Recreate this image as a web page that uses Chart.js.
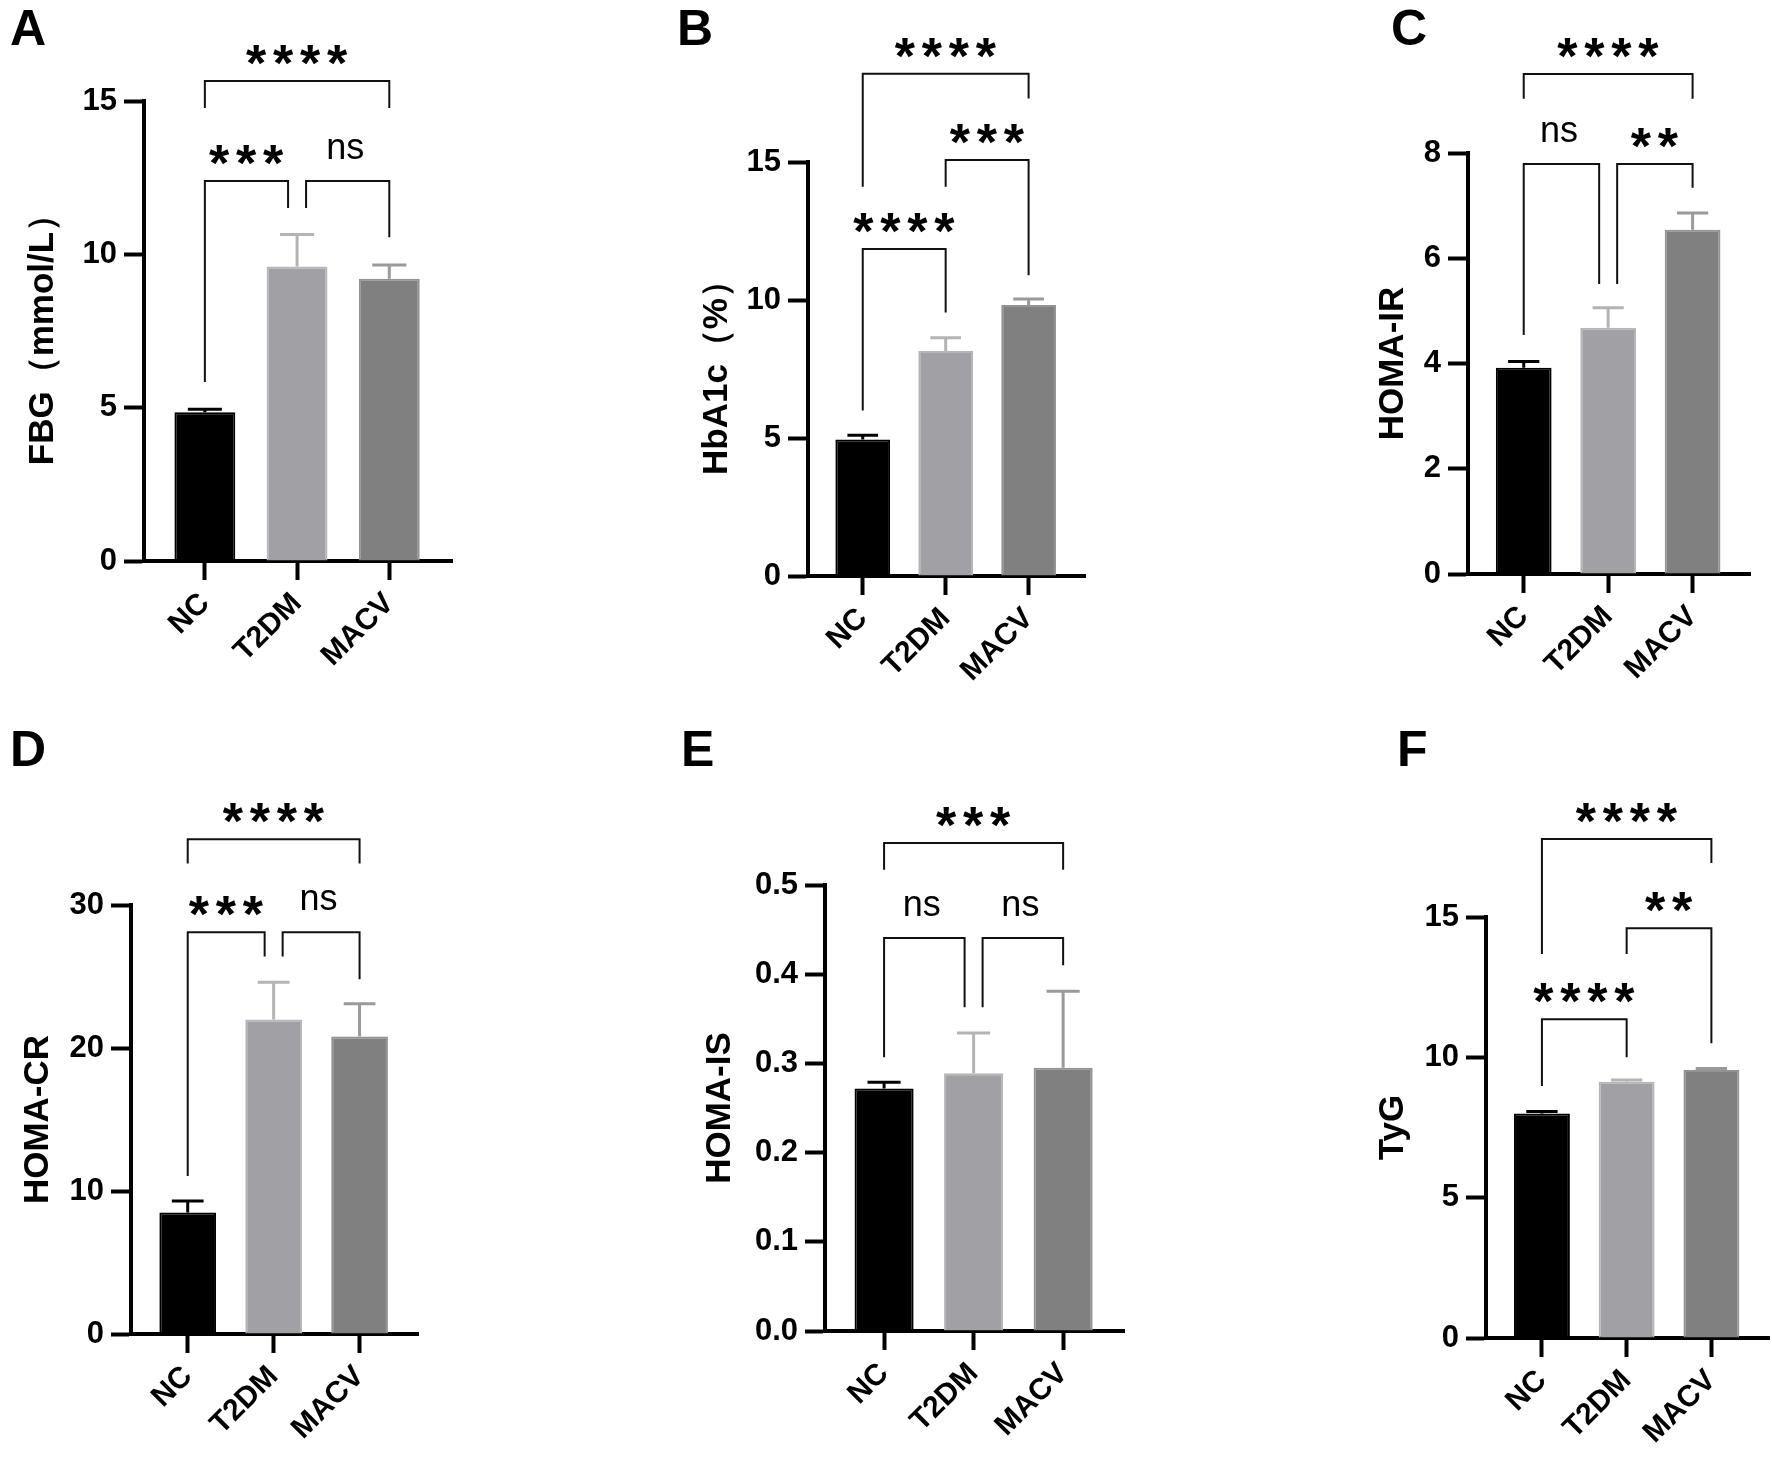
<!DOCTYPE html>
<html>
<head>
<meta charset="utf-8">
<script src="https://cdn.jsdelivr.net/npm/chart.js@4.4.1/dist/chart.umd.min.js"></script>
<style>
  body { margin: 0; background: #fff; }
  #wrap { position: relative; width: 1772px; height: 1459px; overflow: hidden; background: #fff; }
  #wrap canvas { position: absolute; }
  .tag { position: absolute; font: bold 50px "Liberation Sans", Arial, sans-serif; line-height: 1; color: #000; }
</style>
</head>
<body>
<div id="wrap"></div>
<script>
// Data //

const groups = ["NC", "T2DM", "MACV"];

const fbgMean = [4.85, 9.6, 9.2];
const fbgSem = [0.1, 1.05, 0.45];
const fbgTicks = [0, 5, 10, 15];
// [from, to, bracket level, left leg end, right leg end, label]
const fbgSig = [[0, 2, 15.65, 14.77, 14.77, "****"], [0, 1, 12.39, 5.84, 11.51, "***"], [1, 2, 12.39, 11.51, 10.56, "ns"]];

const hba1cMean = [4.95, 8.15, 9.82];
const hba1cSem = [0.15, 0.48, 0.22];
const hba1cTicks = [0, 5, 10, 15];
const hba1cSig = [[0, 2, 18.2, 14.1, 17.3, "****"], [0, 1, 11.85, 6.0, 9.55, "****"], [1, 2, 15.07, 14.1, 10.9, "***"]];

const irMean = [3.92, 4.68, 6.54];
const irSem = [0.12, 0.38, 0.32];
const irTicks = [0, 2, 4, 6, 8];
const irSig = [[0, 2, 9.5, 9.03, 9.03, "****"], [0, 1, 7.79, 4.54, 5.51, "ns"], [1, 2, 7.79, 5.51, 7.34, "**"]];

const crMean = [8.5, 22.0, 20.8];
const crSem = [0.8, 2.6, 2.3];
const crTicks = [0, 10, 20, 30];
const crSig = [[0, 2, 34.6, 32.9, 32.9, "****"], [0, 1, 28.1, 11.05, 26.4, "***"], [1, 2, 28.1, 26.4, 24.8, "ns"]];

const isMean = [0.272, 0.289, 0.295];
const isSem = [0.007, 0.045, 0.086];
const isTicks = [0, 0.1, 0.2, 0.3, 0.4, 0.5];
const isSig = [[0, 2, 0.547, 0.517, 0.517, "***"], [0, 1, 0.4406, 0.307, 0.363, "ns"], [1, 2, 0.4406, 0.363, 0.41, "ns"]];

const tygMean = [8.0, 9.13, 9.55];
const tygSem = [0.07, 0.06, 0.05];
const tygTicks = [0, 5, 10, 15];
const tygSig = [[0, 2, 17.78, 13.68, 16.92, "****"], [0, 1, 11.36, 8.98, 10.0, "****"], [1, 2, 14.6, 13.68, 10.5, "**"]];

// Styles and layout //

const FONT = '"Liberation Sans", Arial, sans-serif';
const barFill = ["#000000", "#a1a1a5", "#808080"];
const barEdge = ["#000000", "#b6b6b9", "#939393"];
const errColors = ["#000000", "#b4b4b4", "#9a9a9a"];

const panels = [
  { tag: "A", title: "FBG（mmol/L）", mean: fbgMean, sem: fbgSem, ticks: fbgTicks, sig: fbgSig, dec: 0 },
  { tag: "B", title: "HbA1c（%）", mean: hba1cMean, sem: hba1cSem, ticks: hba1cTicks, sig: hba1cSig, dec: 0 },
  { tag: "C", title: "HOMA-IR", mean: irMean, sem: irSem, ticks: irTicks, sig: irSig, dec: 0 },
  { tag: "D", title: "HOMA-CR", mean: crMean, sem: crSem, ticks: crTicks, sig: crSig, dec: 0 },
  { tag: "E", title: "HOMA-IS", mean: isMean, sem: isSem, ticks: isTicks, sig: isSig, dec: 1 },
  { tag: "F", title: "TyG", mean: tygMean, sem: tygSem, ticks: tygTicks, sig: tygSig, dec: 0 }
];

// page pixels: cell box, y axis line, top tick, zero line, x axis end, title centre, tag corner
const boxes = [
  { cell: [0, 0, 590, 700], axisX: 144, yTop: 101, yZero: 561, xEnd: 452, titleX: 43, tag: [10, 3] },
  { cell: [590, 0, 590, 700], axisX: 808, yTop: 162, yZero: 576, xEnd: 1085, titleX: 717, tag: [677, 3] },
  { cell: [1180, 0, 592, 700], axisX: 1468, yTop: 153, yZero: 574, xEnd: 1750, titleX: 1393, tag: [1391, 3] },
  { cell: [0, 700, 590, 759], axisX: 131, yTop: 905, yZero: 1334, xEnd: 418, titleX: 38, tag: [10, 724] },
  { cell: [590, 700, 590, 759], axisX: 825, yTop: 885, yZero: 1331, xEnd: 1124, titleX: 720, tag: [681, 724] },
  { cell: [1180, 700, 592, 759], axisX: 1486, yTop: 917, yZero: 1338, xEnd: 1769, titleX: 1393, tag: [1397, 724] }
];

// Draw a label centred on (cx, cy) using the glyph box
function drawCentered(ctx, txt, cx, cy) {
  const m = ctx.measureText(txt);
  const base = cy + (m.actualBoundingBoxAscent - m.actualBoundingBoxDescent) / 2;
  const left = cx - (m.actualBoundingBoxRight - m.actualBoundingBoxLeft) / 2 + m.actualBoundingBoxLeft;
  ctx.fillText(txt, left, base);
}

// Error bars and significance brackets
function makeSig(p) {
  return {
    id: "sig" + p.tag,
    afterDatasetsDraw(chart) {
      const ctx = chart.ctx;
      const x = chart.scales.x;
      const y = chart.scales.y;
      const bars = chart.getDatasetMeta(0).data;
      ctx.save();
      ctx.lineWidth = 3;
      p.mean.forEach((m, i) => {
        const px = x.getPixelForValue(i);
        const y0 = y.getPixelForValue(m);
        const y1 = y.getPixelForValue(m + p.sem[i]);
        const half = bars[i].width * 0.28;
        ctx.strokeStyle = errColors[i];
        ctx.beginPath();
        ctx.moveTo(px, y0);
        ctx.lineTo(px, y1);
        ctx.moveTo(px - half, y1);
        ctx.lineTo(px + half, y1);
        ctx.stroke();
      });
      ctx.restore();
    },
    afterDraw(chart) {
      const ctx = chart.ctx;
      const x = chart.scales.x;
      const y = chart.scales.y;
      ctx.save();
      ctx.lineWidth = 2;
      ctx.strokeStyle = "#111";
      ctx.fillStyle = "#000";
      ctx.textAlign = "left";
      ctx.textBaseline = "alphabetic";
      p.sig.forEach(b => {
        const [a, c, lvl, la, lc, txt] = b;
        let xa = x.getPixelForValue(a);
        let xc = x.getPixelForValue(c);
        // separate legs of neighbouring brackets on the same level
        p.sig.forEach(o => {
          if (o === b || o[2] !== lvl) return;
          if (o[1] === a) xa += 9;
          if (o[0] === c) xc -= 9;
        });
        const yl = y.getPixelForValue(lvl);
        ctx.beginPath();
        ctx.moveTo(xa, y.getPixelForValue(la));
        ctx.lineTo(xa, yl);
        ctx.lineTo(xc, yl);
        ctx.lineTo(xc, y.getPixelForValue(lc));
        ctx.stroke();
        const mid = (xa + xc) / 2;
        if (txt === "ns") {
          ctx.font = "36px " + FONT;
          drawCentered(ctx, txt, mid, yl - 32);
        } else {
          ctx.font = "bold 52px " + FONT;
          const n = txt.length;
          for (let k = 0; k < n; k++) {
            drawCentered(ctx, "*", mid + (k - (n - 1) / 2) * 27, yl - 26);
          }
        }
      });
      ctx.restore();
    }
  };
}

const wrap = document.getElementById("wrap");

panels.forEach((p, k) => {
  const L = boxes[k];
  const [cx, cy, cw, ch] = L.cell;

  const tag = document.createElement("div");
  tag.className = "tag";
  tag.textContent = p.tag;
  tag.style.left = L.tag[0] + "px";
  tag.style.top = L.tag[1] + "px";
  wrap.appendChild(tag);

  const cv = document.createElement("canvas");
  cv.width = cw;
  cv.height = ch;
  cv.style.left = cx + "px";
  cv.style.top = cy + "px";
  wrap.appendChild(cv);

  const tickFont = { family: FONT, size: 31, weight: "bold" };

  new Chart(cv, {
    type: "bar",
    data: {
      datasets: [{
        data: p.mean.map((v, i) => ({ x: i, y: v })),
        backgroundColor: barFill,
        borderColor: barEdge,
        borderWidth: 2,
        borderSkipped: "bottom",
        categoryPercentage: 1,
        barPercentage: 0.66
      }]
    },
    options: {
      responsive: false,
      animation: false,
      devicePixelRatio: 1,
      layout: { padding: { left: 0, top: L.yTop - cy, right: cx + cw - L.xEnd, bottom: 0 } },
      plugins: { legend: { display: false }, tooltip: { enabled: false } },
      scales: {
        x: {
          type: "linear",
          min: -0.66,
          max: 2.68,
          offset: false,
          afterBuildTicks: s => { s.ticks = groups.map((g, i) => ({ value: i })); },
          afterFit: s => { s.height = cy + ch - L.yZero; s.paddingLeft = 0; s.paddingRight = 0; },
          ticks: { callback: v => groups[v], maxRotation: 45, minRotation: 45, font: { family: FONT, size: 30, weight: "bold" }, color: "#000", padding: 6 },
          grid: { drawOnChartArea: false, offset: false, tickLength: 19, tickWidth: 4, tickColor: "#000" },
          border: { display: true, color: "#000", width: 4 }
        },
        y: {
          min: p.ticks[0],
          max: p.ticks[p.ticks.length - 1],
          afterBuildTicks: s => { s.ticks = p.ticks.map(v => ({ value: v })); },
          afterFit: s => { s.width = L.axisX - cx; s.paddingTop = 0; s.paddingBottom = 0; },
          ticks: { callback: v => Number(v).toFixed(p.dec), font: tickFont, color: "#000", padding: 7 },
          grid: { drawOnChartArea: false, tickLength: 20, tickWidth: 4, tickColor: "#000" },
          border: { display: true, color: "#000", width: 4 },
          title: {
            display: true,
            text: p.title,
            color: "#000",
            font: { family: FONT, size: 35, weight: "bold", lineHeight: 1.2 },
            padding: { top: L.titleX - cx - 21, bottom: 0 }
          }
        }
      }
    },
    plugins: [makeSig(p)]
  });
});
</script>
</body>
</html>
